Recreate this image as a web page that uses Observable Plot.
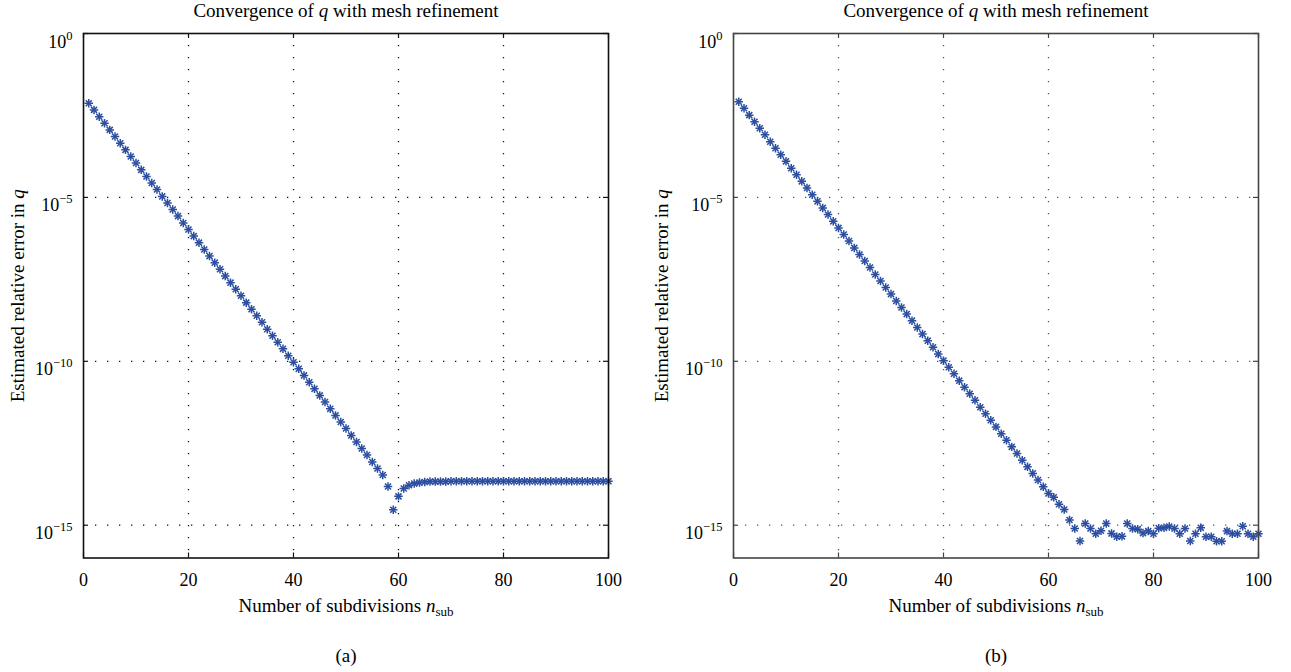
<!DOCTYPE html>
<html><head><meta charset="utf-8">
<script src="https://cdn.jsdelivr.net/npm/d3@7"></script>
<script src="https://cdn.jsdelivr.net/npm/@observablehq/plot@0.6"></script>
<style>
html,body{margin:0;padding:0;background:#fff;}
#wrap{display:flex;width:1291px;height:672px;overflow:hidden;}
svg{display:block;}
</style></head><body><div id="wrap"></div>
<script>
// Number of subdivisions n_sub = 1..100
const nSub = d3.range(1, 101);
// log10 of estimated relative error, panel (a)
const logErrA = [
  -2.13,-2.33,-2.54,-2.74,-2.94,-3.14,-3.35,-3.55,-3.75,-3.95,
  -4.16,-4.36,-4.56,-4.76,-4.97,-5.17,-5.37,-5.57,-5.78,-5.98,
  -6.18,-6.38,-6.59,-6.79,-6.99,-7.19,-7.40,-7.60,-7.80,-8.00,
  -8.21,-8.41,-8.61,-8.81,-9.02,-9.22,-9.42,-9.62,-9.83,-10.03,
  -10.23,-10.43,-10.64,-10.84,-11.04,-11.24,-11.45,-11.65,-11.85,-12.05,
  -12.26,-12.46,-12.66,-12.86,-13.07,-13.27,-13.47,-13.82,-14.53,-14.12,
  -13.88,-13.78,-13.73,-13.70,-13.68,-13.67,-13.67,-13.67,-13.67,-13.66,
  -13.66,-13.66,-13.66,-13.66,-13.66,-13.66,-13.66,-13.66,-13.66,-13.66,
  -13.66,-13.66,-13.66,-13.66,-13.66,-13.66,-13.66,-13.66,-13.66,-13.66,
  -13.66,-13.66,-13.66,-13.66,-13.66,-13.66,-13.66,-13.66,-13.66,-13.66
];
// log10 of estimated relative error, panel (b)
const logErrB = [
  -2.08,-2.28,-2.49,-2.69,-2.89,-3.09,-3.30,-3.50,-3.70,-3.90,
  -4.11,-4.31,-4.51,-4.71,-4.92,-5.12,-5.32,-5.52,-5.73,-5.93,
  -6.13,-6.33,-6.54,-6.74,-6.94,-7.14,-7.35,-7.55,-7.75,-7.95,
  -8.16,-8.36,-8.56,-8.76,-8.97,-9.17,-9.37,-9.57,-9.78,-9.98,
  -10.18,-10.38,-10.59,-10.79,-10.99,-11.19,-11.40,-11.60,-11.80,-12.00,
  -12.21,-12.41,-12.61,-12.81,-13.02,-13.22,-13.42,-13.62,-13.83,-14.03,
  -14.15,-14.36,-14.52,-14.84,-15.10,-15.48,-14.95,-15.10,-15.26,-15.17,
  -14.95,-15.25,-15.35,-15.34,-14.95,-15.10,-15.12,-15.24,-15.18,-15.26,
  -15.09,-15.08,-15.04,-15.10,-15.26,-15.10,-15.48,-15.26,-15.08,-15.35,
  -15.35,-15.49,-15.49,-15.18,-15.26,-15.26,-15.03,-15.26,-15.35,-15.26
];
const xTicks = [0, 20, 40, 60, 80, 100];
const xGrid = [20, 40, 60, 80];
const yTicks = [1, 1e-5, 1e-10, 1e-15];
const yGrid = [1e-5, 1e-10, 1e-15];
const titleText = "Convergence of q with mesh refinement";
const xLabelText = "Number of subdivisions nsub";
const yLabelText = "Estimated relative error in q";
const panelTags = ["(a)", "(b)"];

const FONT = "'Liberation Serif','Times New Roman',serif";
const FS = 18;   // tick labels
const LS = 19;   // titles and axis labels
const MARK = "#2b4ea0";

function panel({logErr, tag, width, marginLeft, marginRight, ink, gridInk, yLabelDx}) {
  const data = nSub.map((n, i) => ({n, err: Math.pow(10, logErr[i])}));
  const H = 672, mt = 33, mb = 114.5;
  const ph = H - mt - mb;
  const pw = width - marginLeft - marginRight;
  const svg = Plot.plot({
    width, height: H, marginLeft, marginRight, marginTop: mt, marginBottom: mb,
    style: {fontFamily: FONT, fontSize: FS + "px", background: "#fff", color: "#000", overflow: "visible"},
    x: {domain: [0, 100], label: null},
    y: {type: "log", domain: [1e-16, 1], label: null},
    marks: [
      Plot.gridX(xGrid, {stroke: gridInk, strokeOpacity: 1, strokeWidth: 1.3, strokeDasharray: "1.3,10.7"}),
      Plot.gridY(yGrid, {stroke: gridInk, strokeOpacity: 1, strokeWidth: 1.3, strokeDasharray: "1.3,10.7"}),
      Plot.dot(data, {x: "n", y: "err", symbol: "plus", r: 2.85, stroke: MARK, fill: "none", strokeWidth: 1.5}),
      Plot.dot(data, {x: "n", y: "err", symbol: "times", r: 2.85, stroke: MARK, fill: "none", strokeWidth: 1.5}),
      Plot.tickX(xTicks, {insetTop: ph - 5, stroke: ink, strokeWidth: 1.2}),
      Plot.tickX(xTicks, {insetBottom: ph - 5, stroke: ink, strokeWidth: 1.2}),
      Plot.tickY(yTicks, {insetRight: pw - 5, stroke: ink, strokeWidth: 1.2}),
      Plot.tickY(yTicks, {insetLeft: pw - 5, stroke: ink, strokeWidth: 1.2}),
      Plot.frame({stroke: ink, strokeWidth: 1.6}),
      Plot.axisX(xTicks, {tickSize: 0, tickPadding: 15, fontSize: FS, tickFormat: d => String(d)}),
      Plot.axisY(yTicks, {tickSize: 0, tickPadding: 11, fontSize: FS, tickFormat: d => String(Math.round(Math.log10(d)))}),
      Plot.text([titleText], {frameAnchor: "top", lineAnchor: "middle", textAnchor: "middle", dy: -23, fontSize: LS}),
      Plot.text([xLabelText], {frameAnchor: "bottom", lineAnchor: "middle", textAnchor: "middle", dy: 48, fontSize: LS}),
      Plot.text([tag], {frameAnchor: "bottom", lineAnchor: "middle", textAnchor: "middle", dy: 98, fontSize: LS}),
      Plot.text([yLabelText], {frameAnchor: "left", lineAnchor: "middle", textAnchor: "middle", dx: yLabelDx, rotate: -90, fontSize: LS})
    ]
  });
  const s = d3.select(svg);
  s.selectAll('g[aria-label="y-axis tick label"] text').each(function() {
    const e = this.textContent.replace("-", "\u2212");
    this.setAttribute("y", "0.78em");
    this.innerHTML = `10<tspan dy="-8" font-size="12.5">${e}</tspan>`;
  });
  s.selectAll("text").each(function() {
    const t = this.textContent;
    if (t === titleText) {
      this.innerHTML = 'Convergence of <tspan font-style="italic">q</tspan> with mesh refinement';
    } else if (t === xLabelText) {
      this.innerHTML = 'Number of subdivisions <tspan font-style="italic">n</tspan><tspan font-size="13" dy="4">sub</tspan>';
    } else if (t === yLabelText) {
      this.innerHTML = 'Estimated relative error in <tspan font-style="italic">q</tspan>';
    }
  });
  return svg;
}

const wrap = document.getElementById("wrap");
wrap.appendChild(panel({logErr: logErrA, tag: panelTags[0], width: 645, marginLeft: 83, marginRight: 37, ink: "#111", gridInk: "#111", yLabelDx: -65.5}));
wrap.appendChild(panel({logErr: logErrB, tag: panelTags[1], width: 646, marginLeft: 88, marginRight: 33, ink: "#444", gridInk: "#555", yLabelDx: -72}));
</script>
</body></html>
